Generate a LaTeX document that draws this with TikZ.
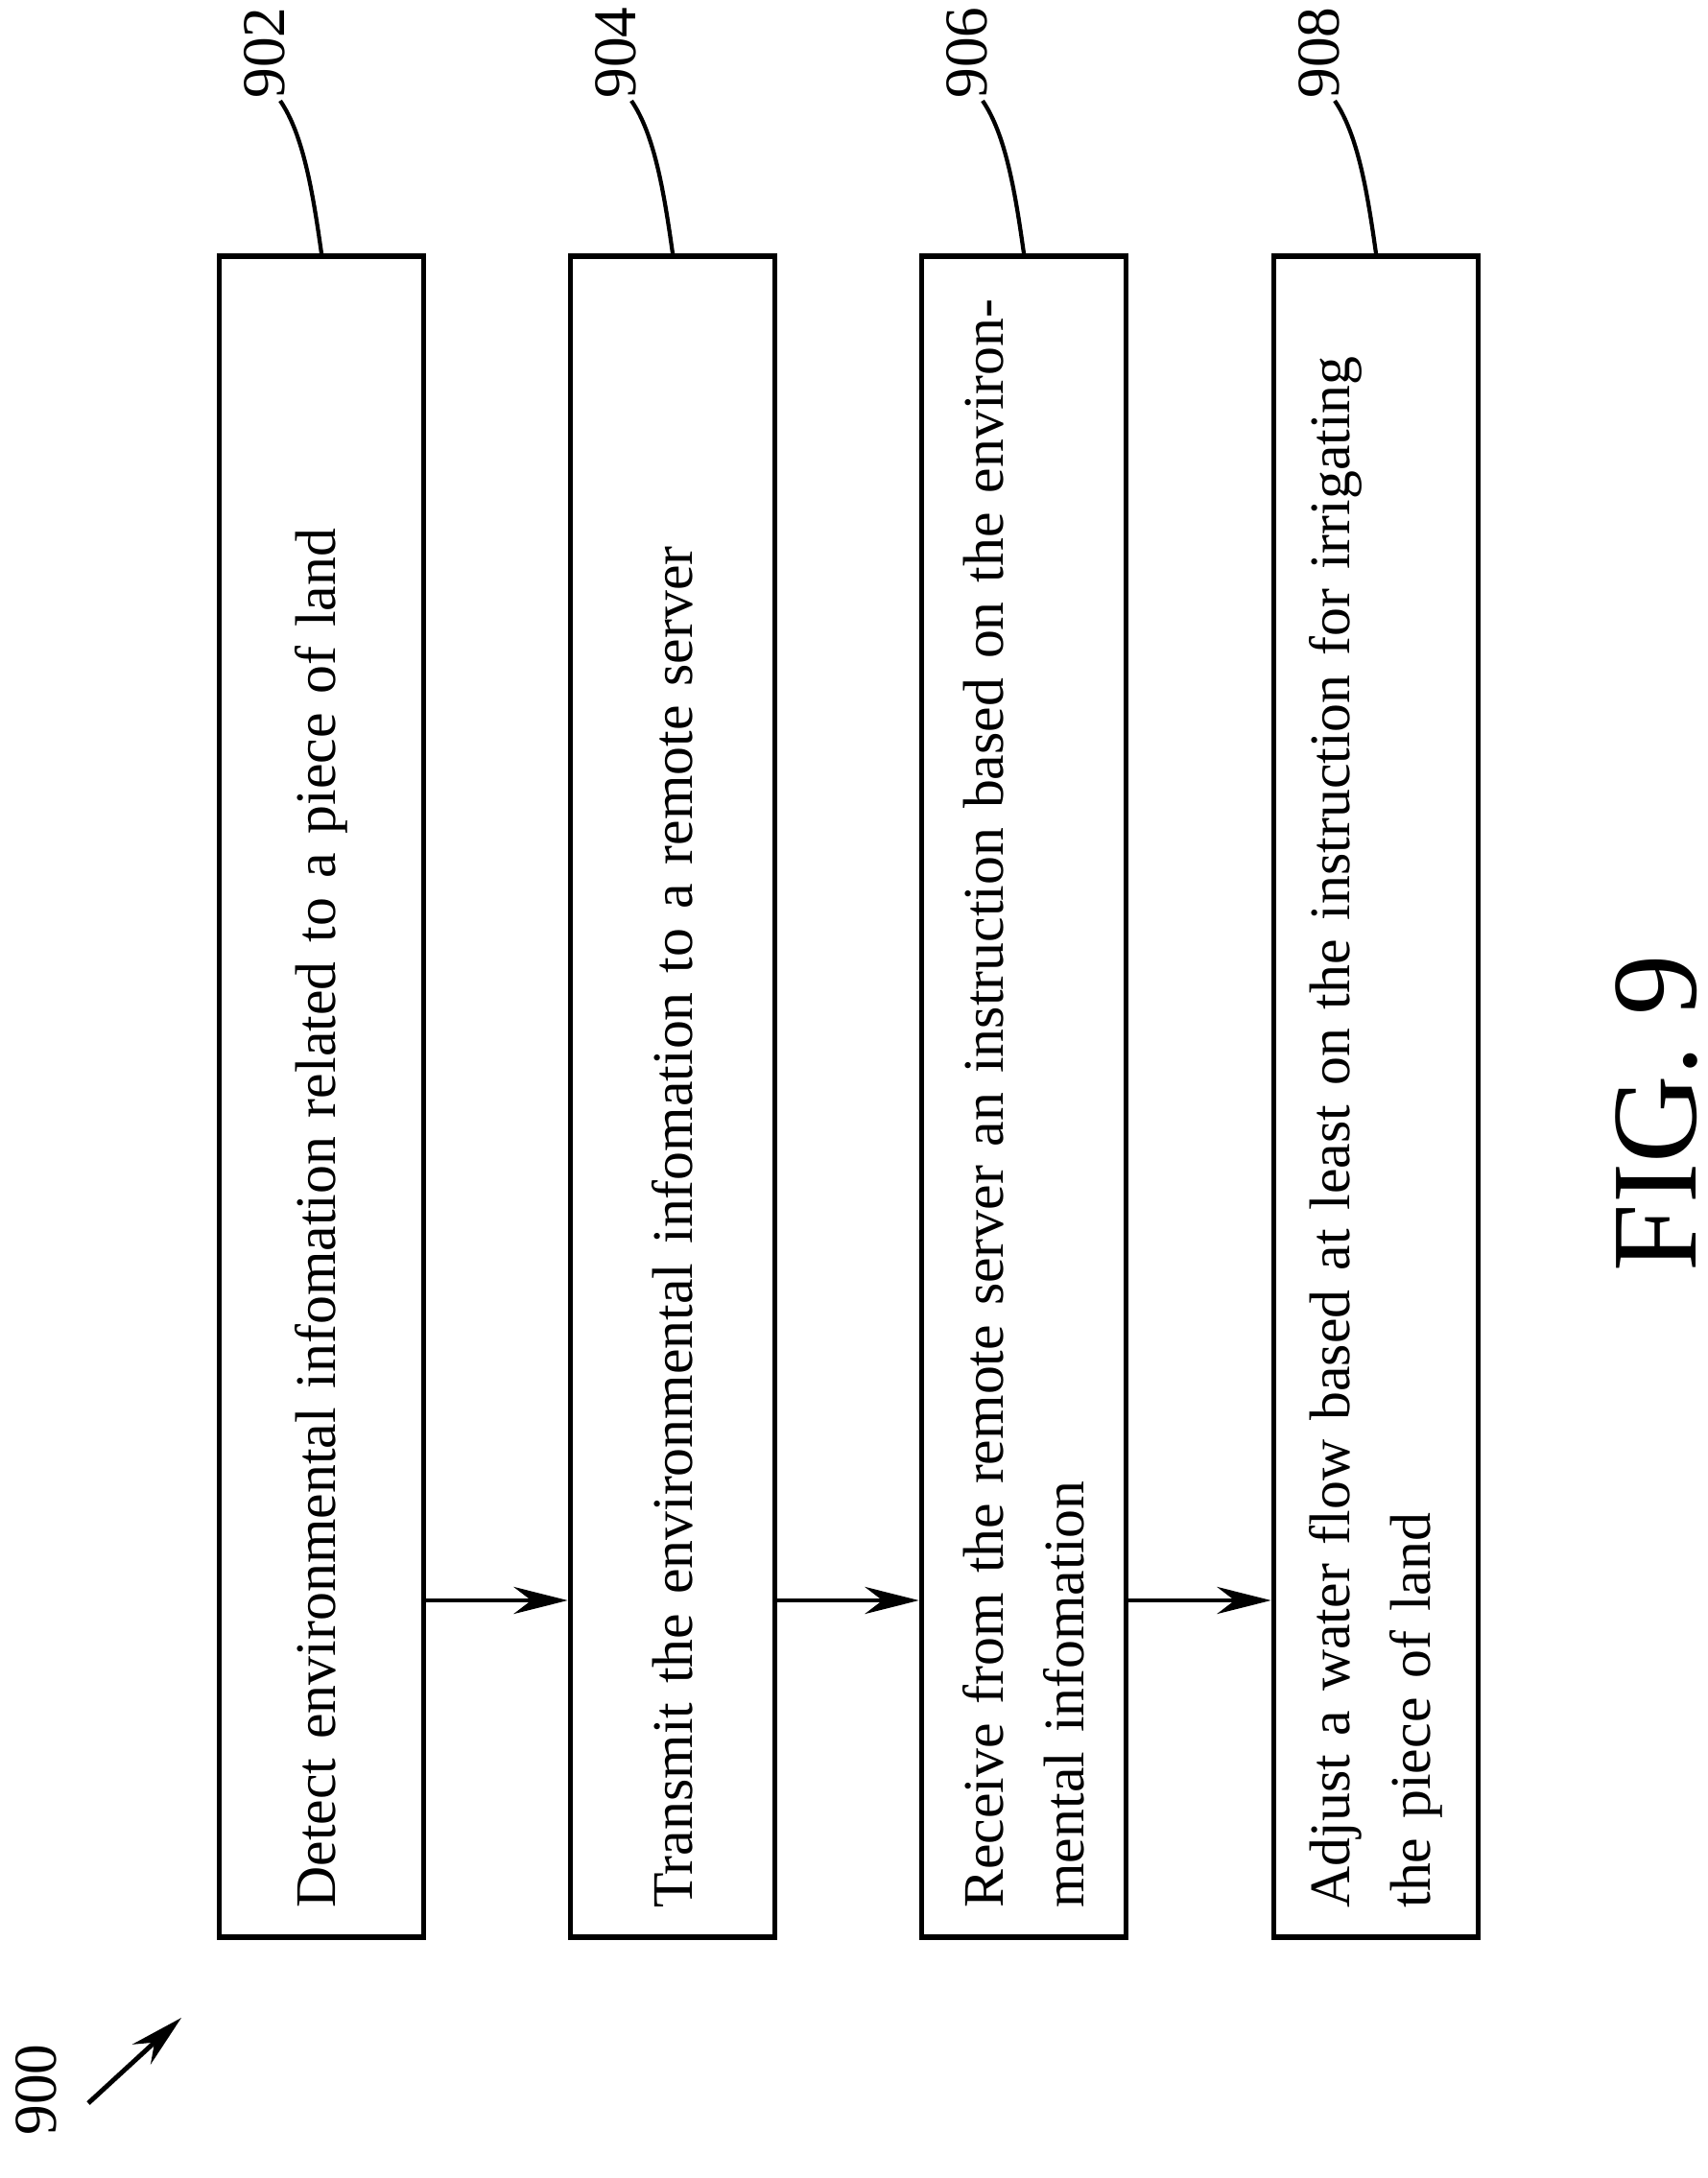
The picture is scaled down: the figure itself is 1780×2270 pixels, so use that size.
\documentclass[tikz,border=0pt]{standalone}
\usepackage{fontspec}
\setmainfont{Liberation Serif}
\usetikzlibrary{arrows.meta}

\tikzset{
  stepbox/.style={draw, line width=1.6pt, rotate=90, minimum width=17.51cm,
    minimum height=2.13cm, text width=16.9cm, align=left, inner sep=0pt,
    font=\fontsize{17}{24}\selectfont},
  reflabel/.style={rotate=90, font=\fontsize{18}{20}\selectfont},
  flow/.style={-{Stealth[length=16pt,width=8pt]}, line width=1.4pt}
}

\begin{document}
\begin{tikzpicture}[x=0.01cm, y=-0.01cm]
        \useasboundingbox (0,0) rectangle (1780,2270);
        % step boxes
        \node[stepbox] (b1) at (335,1143) {Detect environmental infomation related to a piece of land};
        \node[stepbox] (b2) at (701,1143) {Transmit the environmental infomation to a remote server};
        \node[stepbox] (b3) at (1067,1143) {Receive from the remote server an instruction based on the environmental infomation};
        \node[stepbox] (b4) at (1434,1143) {Adjust a water flow based at least on the instruction for irrigating the piece of land};
        % arrows between steps
        \coordinate (lvl) at (0,1668);
        \draw[flow] (b1.south |- lvl) -- (b2.north |- lvl);
        \draw[flow] (b2.south |- lvl) -- (b3.north |- lvl);
        \draw[flow] (b3.south |- lvl) -- (b4.north |- lvl);
        % reference numerals
        \foreach \b/\n/\x in {b1/902/276, b2/904/642, b3/906/1008, b4/908/1375}{
          \node[reflabel] (r\n) at (\x,55) {\n};
          \draw[line width=1.2pt] (\x+16,105) .. controls (\x+40,140) and (\x+50,200) .. (\b.east);
        }
        % figure label
        \node[rotate=90, font=\fontsize{36}{40}\selectfont] (fig) at (1726,1160) {FIG. 9};
        % overall reference
        \node[reflabel] (r900) at (38,2178) {900};
        \coordinate (p900) at (189,2103);
        \draw[-{Stealth[length=16pt,width=8pt]}, line width=1.4pt] (92,2192) -- (p900);
\end{tikzpicture}
\end{document}
